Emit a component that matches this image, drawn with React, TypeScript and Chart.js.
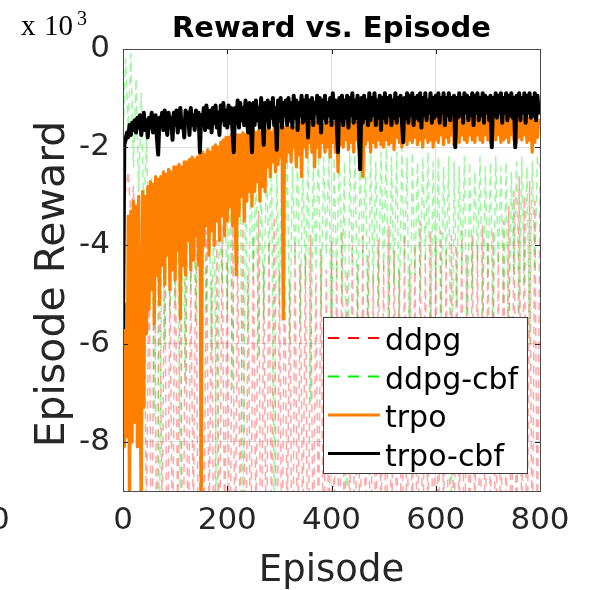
import { useEffect, useRef } from "react";
import { Chart, registerables } from "chart.js";

Chart.register(...registerables);

// ---------------- data (reward in units of 10^3) ----------------
// ddpg / ddpg-cbf: one value every 5 episodes; trpo / trpo-cbf: one value every 2.5 episodes
const DDPG_STEP = 5;
const TRPO_STEP = 2.5;
const xTicks = [0, 200, 400, 600, 800];
const yTicks = [-8, -6, -4, -2, 0];
const seriesNames = ["ddpg", "ddpg-cbf", "trpo", "trpo-cbf"];
const titleText = "Reward vs. Episode";
const xTitle = "Episode";
const yTitle = "Episode Reward";

const ddpg = [
  -2.3, -2.9, -2.5, -3.4, -2.8, -4.0, -3.0, -11, -3.5, -10,
  -3.8, -12, -3.3, -11, -4.1, -9.6, -3.7, -12, -4.4, -11,
  -3.5, -10, -4.0, -12, -3.8, -11, -4.5, -9.8, -3.4, -12,
  -4.2, -11, -3.7, -10, -4.7, -12, -3.9, -11, -3.6, -10,
  -4.3, -12, -3.2, -11, -4.0, -10, -3.5, -12, -4.6, -11,
  -3.8, -10, -3.3, -12, -4.4, -11, -3.9, -10, -3.4, -12,
  -4.5, -11, -4.1, -10, -4.7, -12, -3.9, -11, -4.4, -10,
  -4.2, -12, -3.8, -11, -4.6, -10, -4.1, -12, -4.5, -11,
  -3.9, -10, -4.3, -12, -3.7, -11, -4.5, -10, -4.0, -12,
  -4.4, -11, -3.8, -10, -4.2, -12, -4.6, -11, -3.9, -10,
  -4.3, -12, -3.6, -11, -4.1, -10, -4.5, -12, -3.8, -11,
  -4.4, -10, -4.0, -12, -3.5, -11, -4.2, -10, -3.7, -12,
  -3.9, -11, -3.7, -10, -4.1, -12, -3.8, -11, -4.0, -10,
  -3.7, -12, -4.2, -11, -3.8, -10, -4.0, -12, -3.6, -11,
  -3.9, -10, -3.7, -12, -4.1, -11, -3.5, -10, -3.2, -12,
  -2.9, -11, -2.6, -10, -3.0, -12, -2.7, -11, -3.1, -10,
  -2.8,
];

const ddpgCbf = [
  -1.9, -0.2, -1.6, -0.1, -2.4, -0.6, -2.9, -0.9, -3.4, -1.8,
  -4.2, -2.6, -7.5, -2.9, -10, -2.7, -6.0, -3.1, -5.4, -2.8,
  -5.2, -3.0, -9.5, -2.7, -6.8, -3.2, -4.9, -2.9, -5.6, -2.6,
  -8.4, -3.0, -5.3, -2.8, -6.2, -2.5, -11, -3.1, -4.8, -2.7,
  -5.4, -2.4, -6.9, -2.6, -4.6, -2.3, -10, -2.8, -5.8, -2.5,
  -4.7, -2.4, -6.3, -2.6, -5.5, -2.3, -4.4, -2.2, -9.5, -2.5,
  -5.2, -2.3, -4.6, -2.1, -6.0, -2.4, -4.3, -2.2, -5.6, -2.3,
  -4.8, -2.1, -7.2, -2.3, -4.5, -2.0, -5.4, -2.2, -4.2, -2.1,
  -6.4, -2.2, -4.7, -2.0, -5.1, -2.3, -10, -2.1, -4.4, -2.0,
  -5.6, -2.2, -4.3, -2.1, -6.2, -2.0, -4.8, -2.3, -5.2, -2.1,
  -4.5, -2.0, -6.0, -2.2, -4.8, -2.1, -5.5, -2.0, -4.4, -2.2,
  -7.2, -2.1, -4.6, -2.3, -5.0, -2.2, -4.3, -2.1, -6.1, -2.3,
  -4.8, -2.2, -5.6, -2.4, -4.4, -2.2, -9.8, -2.3, -5.2, -2.4,
  -4.6, -2.2, -6.4, -2.3, -4.9, -2.5, -4.3, -2.2, -5.7, -2.4,
  -4.7, -2.3, -5.9, -2.2, -4.4, -2.4, -5.2, -2.3, -6.6, -2.5,
  -4.6, -2.3, -5.4, -2.2, -4.8, -2.4, -6.0, -2.3, -4.5, -2.2,
  -2.4,
];

const trpo = [
  -6.0, -8.1, -5.2, -7.9, -3.4, -9.5, -3.3, -8.0, -3.1, -7.6,
  -3.2, -8.1, -3.0, -6.5, -9.5, -2.9, -7.3, -3.0, -5.8, -2.8,
  -5.3, -2.7, -4.9, -2.75, -5.6, -2.6, -4.6, -2.65, -5.2, -2.6,
  -4.4, -2.5, -4.8, -2.55, -4.2, -2.45, -4.9, -2.5, -4.5, -2.4,
  -4.7, -2.4, -4.1, -2.35, -5.5, -2.4, -4.4, -2.3, -4.6, -2.3,
  -3.9, -2.25, -4.5, -2.2, -4.3, -2.25, -3.8, -2.2, -4.4, -2.15,
  -9.5, -2.1, -4.0, -2.15, -3.6, -2.05, -4.2, -2.1, -3.7, -2.0,
  -4.0, -1.95, -3.5, -2.0, -3.9, -1.9, -3.4, -1.85, -3.8, -1.8,
  -3.5, -1.8, -3.2, -1.75, -3.6, -1.8, -3.3, -4.6, -1.75, -3.4,
  -1.75, -3.0, -1.7, -3.5, -1.75, -3.1, -1.7, -2.9, -1.7, -3.2,
  -1.65, -2.9, -1.7, -2.7, -1.65, -3.1, -1.7, -2.8, -1.6, -2.9,
  -1.65, -2.4, -1.6, -2.6, -1.7, -2.3, -1.6, -2.5, -1.65, -2.35,
  -1.6, -2.2, -1.65, -5.5, -1.6, -2.3, -1.55, -2.1, -1.6, -2.3,
  -1.55, -2.0, -1.6, -2.4, -1.55, -2.15, -1.5, -2.6, -1.55, -2.0,
  -1.5, -2.2, -1.6, -1.9, -1.5, -2.1, -1.55, -2.4, -1.5, -2.0,
  -1.55, -2.2, -1.5, -1.9, -1.55, -2.1, -1.45, -2.0, -1.5, -2.2,
  -1.45, -1.9, -1.5, -2.1, -1.45, -2.5, -1.4, -1.95, -1.45, -2.0,
  -1.4, -1.85, -1.45, -2.05, -1.4, -1.9, -1.45, -2.1, -1.4, -1.85,
  -1.45, -2.0, -1.4, -1.9, -2.6, -1.45, -1.95, -1.4, -1.85, -1.45,
  -2.1, -1.4, -1.9, -1.45, -2.0, -1.4, -1.85, -1.35, -1.95, -1.4,
  -2.0, -1.45, -1.85, -1.4, -1.95, -1.35, -1.9, -1.4, -2.05, -1.45,
  -1.8, -1.4, -1.9, -1.35, -2.0, -1.4, -1.85, -1.35, -1.95, -1.4,
  -1.85, -1.35, -1.9, -1.4, -1.8, -1.35, -1.95, -1.4, -1.85, -1.35,
  -2.0, -1.4, -1.8, -1.35, -1.9, -1.4, -1.85, -1.35, -2.0, -1.4,
  -1.85, -1.35, -1.9, -1.4, -1.75, -1.35, -1.95, -1.4, -1.8, -1.35,
  -1.9, -1.4, -1.75, -1.35, -1.95, -1.4, -1.8, -1.35, -1.9, -1.4,
  -1.75, -1.35, -1.85, -1.4, -1.9, -1.35, -1.75, -1.4, -1.85, -1.35,
  -1.9, -1.4, -1.75, -1.35, -1.85, -1.4, -1.9, -1.35, -1.75, -1.4,
  -1.85, -1.35, -1.9, -1.4, -1.8, -1.35, -1.85, -1.4, -1.75, -1.35,
  -1.9, -1.4, -1.85, -1.35, -1.8, -1.4, -1.9, -1.35, -1.75, -1.4,
  -1.85, -1.35, -1.9, -1.4, -1.8, -1.35, -1.85, -1.4, -1.75, -1.35,
  -1.9, -1.4, -1.85, -1.35, -2.1, -1.4, -1.9, -1.35, -1.8, -1.45,
  -1.55,
];

const trpoCbf = [
  -5.7, -1.95, -1.85, -1.7, -1.8, -1.55, -1.75, -1.5, -1.65, -1.45,
  -1.7, -1.4, -1.6, -1.35, -1.75, -1.5, -1.3, -1.65, -1.45, -1.8,
  -1.4, -1.6, -1.3, -1.7, -1.45, -1.35, -1.8, -2.15, -1.4, -1.55,
  -1.3, -1.65, -1.25, -1.5, -1.75, -1.3, -1.6, -1.4, -1.85, -1.3,
  -1.55, -1.25, -1.7, -1.35, -1.2, -1.6, -1.45, -1.8, -1.25, -1.5,
  -1.3, -1.75, -1.2, -1.55, -1.35, -1.65, -1.25, -1.5, -1.3, -2.1,
  -1.35, -1.55, -1.2, -1.65, -1.15, -1.45, -1.6, -1.25, -1.7, -1.2,
  -1.5, -1.15, -1.6, -1.3, -1.75, -1.15, -1.45, -1.1, -1.55, -1.25,
  -1.6, -1.15, -1.5, -1.2, -1.65, -2.1, -1.2, -1.5, -1.05, -1.6,
  -1.1, -1.45, -1.2, -1.55, -1.05, -1.4, -1.7, -1.1, -1.5, -2.1,
  -1.1, -1.55, -1.05, -1.45, -1.2, -1.6, -1.0, -1.5, -1.95, -1.1,
  -1.45, -1.05, -1.6, -1.1, -1.4, -1.0, -1.55, -1.2, -2.05, -1.05,
  -1.45, -1.0, -1.6, -1.1, -1.35, -1.05, -1.55, -1.0, -1.45, -1.1,
  -1.6, -0.95, -1.4, -1.05, -1.65, -1.1, -1.35, -0.95, -1.5, -1.05,
  -1.45, -0.95, -1.8, -1.05, -1.4, -1.0, -1.55, -1.1, -1.3, -0.95,
  -1.5, -1.0, -1.7, -1.05, -1.4, -0.95, -1.5, -1.1, -1.35, -1.0,
  -1.55, -0.9, -1.4, -1.05, -1.5, -2.1, -1.0, -1.45, -0.95, -1.55,
  -1.05, -1.4, -0.95, -1.6, -1.0, -1.35, -0.9, -1.5, -1.05, -1.4,
  -0.95, -1.6, -2.45, -1.0, -1.5, -0.95, -1.4, -1.05, -1.55, -0.9,
  -1.45, -1.0, -1.35, -0.9, -1.55, -1.05, -1.4, -0.95, -1.65, -1.0,
  -1.4, -0.9, -1.5, -1.0, -1.35, -0.95, -1.55, -1.05, -1.4, -0.9,
  -1.5, -1.0, -1.35, -0.95, -1.45, -1.9, -1.0, -1.4, -0.9, -1.5,
  -0.95, -1.35, -0.9, -1.55, -1.0, -1.4, -0.95, -1.45, -0.9, -1.6,
  -1.0, -1.35, -0.9, -1.45, -1.05, -1.3, -0.9, -1.5, -1.0, -1.4,
  -0.95, -1.35, -0.9, -1.5, -1.0, -1.3, -0.9, -1.55, -1.0, -1.35,
  -0.9, -1.45, -1.0, -1.3, -0.95, -2.0, -1.0, -1.4, -0.9, -1.35,
  -1.0, -1.5, -0.9, -1.3, -0.95, -1.45, -1.0, -1.35, -0.9, -1.55,
  -0.95, -1.3, -0.9, -1.45, -1.0, -1.35, -0.9, -1.5, -0.95, -1.3,
  -1.0, -1.45, -0.95, -2.0, -1.0, -1.35, -0.9, -1.4, -0.95, -1.3,
  -0.9, -1.5, -1.0, -1.3, -0.9, -1.45, -0.95, -1.35, -0.9, -1.4,
  -1.0, -2.0, -0.95, -1.35, -0.9, -1.45, -1.0, -1.3, -0.9, -1.5,
  -0.95, -1.3, -0.9, -1.4, -1.0, -1.35, -0.9, -1.45, -0.95, -1.3,
  -1.15,
];

// ---------------- styling ----------------
const FONT = "'DejaVu Sans', sans-serif";
const AXIS_COLOR = "#262626";

const toPoints = (vals: number[], step: number) => vals.map((y, i) => ({ x: i * step, y }));

const decorPlugin = {
  id: "decor",
  afterDatasetsDraw(chart: any) {
    const { ctx, chartArea: a, scales } = chart;
    ctx.save();
    ctx.strokeStyle = AXIS_COLOR;
    ctx.lineWidth = 1;
    const tl = 5;
    for (const v of xTicks) {
      const px = Math.round(scales.x.getPixelForValue(v)) + 0.5;
      ctx.beginPath();
      ctx.moveTo(px, a.bottom);
      ctx.lineTo(px, a.bottom - tl);
      ctx.moveTo(px, a.top);
      ctx.lineTo(px, a.top + tl);
      ctx.stroke();
    }
    for (const v of yTicks) {
      const py = Math.round(scales.y.getPixelForValue(v)) + 0.5;
      ctx.beginPath();
      ctx.moveTo(a.left, py);
      ctx.lineTo(a.left + tl, py);
      ctx.moveTo(a.right, py);
      ctx.lineTo(a.right - tl, py);
      ctx.stroke();
    }
    ctx.strokeStyle = "#4a4a4a";
    ctx.strokeRect(Math.round(a.left) + 0.5, Math.round(a.top) + 0.5, Math.round(a.right - a.left), Math.round(a.bottom - a.top));
    ctx.restore();
  },
  afterDraw(chart: any) {
    const { ctx, chartArea: a } = chart;
    ctx.save();
    // legend
    const lx = 323, ly = 317, lw = 204, lh = 156;
    ctx.fillStyle = "#ffffff";
    ctx.fillRect(lx, ly, lw, lh);
    ctx.strokeStyle = "#3a3a3a";
    ctx.lineWidth = 1;
    ctx.strokeRect(lx + 0.5, ly + 0.5, lw, lh);
    const ds = chart.data.datasets;
    ctx.font = `30px ${FONT}`;
    ctx.textBaseline = "alphabetic";
    ctx.textAlign = "left";
    seriesNames.forEach((name, k) => {
      const d = ds.find((q: any) => q.label === name);
      const yy = 338 + k * 38.5;
      ctx.beginPath();
      ctx.strokeStyle = d.legendColor;
      ctx.lineWidth = d.legendWidth;
      ctx.setLineDash(d.borderDash ? [11, 9] : []);
      ctx.moveTo(328, yy);
      ctx.lineTo(380, yy);
      ctx.stroke();
      ctx.setLineDash([]);
      ctx.fillStyle = "#000";
      ctx.fillText(name, 385, yy + 12);
    });
    // title
    ctx.fillStyle = "#000";
    ctx.textAlign = "center";
    ctx.font = `bold 29px ${FONT}`;
    ctx.fillText(titleText, (a.left + a.right) / 2, 37);
    // y axis title
    ctx.save();
    ctx.translate(53, 284);
    ctx.rotate(-Math.PI / 2);
    ctx.textBaseline = "middle";
    ctx.fillStyle = AXIS_COLOR;
    ctx.font = `41px ${FONT}`;
    ctx.fillText(yTitle, 0, 0);
    ctx.restore();
    // exponent label
    ctx.textAlign = "left";
    ctx.textBaseline = "alphabetic";
    ctx.fillStyle = "#000";
    ctx.font = `29px 'Liberation Serif', serif`;
    ctx.fillText("x", 21, 35);
    ctx.fillText("10", 44, 35);
    ctx.font = `20px 'Liberation Serif', serif`;
    ctx.fillText("3", 77, 25);
    // clipped tick label of a neighbouring panel at far left
    ctx.font = `31px ${FONT}`;
    ctx.fillStyle = AXIS_COLOR;
    ctx.textBaseline = "middle";
    ctx.fillText("0", -10, a.bottom + 14 + 15.5);
    ctx.restore();
  },
};

export default function App() {
  const ref = useRef<HTMLCanvasElement | null>(null);
  useEffect(() => {
    if (!ref.current) return;
    const chart = new Chart(ref.current, {
      type: "line",
      data: {
        datasets: [
          {
            label: "ddpg",
            data: toPoints(ddpg, DDPG_STEP),
            borderColor: "rgba(255,0,0,0.35)",
            borderWidth: 1.5,
            borderDash: [8, 5],
            legendColor: "#ff0000",
            legendWidth: 2,
            order: 4,
          } as any,
          {
            label: "ddpg-cbf",
            data: toPoints(ddpgCbf, DDPG_STEP),
            borderColor: "rgba(0,235,0,0.38)",
            borderWidth: 1.5,
            borderDash: [8, 5],
            legendColor: "#00ee00",
            legendWidth: 2,
            order: 3,
          } as any,
          {
            label: "trpo",
            data: toPoints(trpo, TRPO_STEP),
            borderColor: "#ff8000",
            borderWidth: 3.2,
            legendColor: "#ff8000",
            legendWidth: 3,
            order: 2,
          } as any,
          {
            label: "trpo-cbf",
            data: toPoints(trpoCbf, TRPO_STEP),
            borderColor: "#000000",
            borderWidth: 4,
            legendColor: "#000000",
            legendWidth: 3,
            order: 1,
          } as any,
        ],
      },
      options: {
        responsive: false,
        animation: false,
        clip: 0 as any,
        elements: {
          point: { radius: 0 },
          line: { tension: 0, borderJoinStyle: "round", borderCapStyle: "butt" },
        },
        layout: { padding: { left: 0, right: 49, top: 49, bottom: 0 } },
        plugins: {
          legend: { display: false },
          tooltip: { enabled: false },
          title: { display: false },
        },
        scales: {
          x: {
            type: "linear",
            min: 0,
            max: 800,
            afterBuildTicks: (s: any) => {
              s.ticks = xTicks.map((v) => ({ value: v }));
            },
            afterFit: (s: any) => {
              s.height = 99;
            },
            grid: { color: "rgba(0,0,0,0.13)", drawTicks: false },
            border: { display: false },
            ticks: {
              color: AXIS_COLOR,
              font: { family: FONT, size: 31, lineHeight: 1 },
              padding: 14,
              maxRotation: 0,
              autoSkip: false,
            },
            title: {
              display: true,
              text: xTitle,
              color: AXIS_COLOR,
              font: { family: FONT, size: 37, lineHeight: 1 },
              padding: { top: 0, bottom: 0 },
            },
          },
          y: {
            type: "linear",
            min: -9,
            max: 0,
            afterBuildTicks: (s: any) => {
              s.ticks = yTicks.map((v) => ({ value: v }));
            },
            afterFit: (s: any) => {
              s.width = 123;
            },
            grid: { color: "rgba(0,0,0,0.13)", drawTicks: false },
            border: { display: false },
            ticks: {
              color: AXIS_COLOR,
              font: { family: FONT, size: 31, lineHeight: 1 },
              padding: 13,
            },
            title: { display: false },
          },
        },
      },
      plugins: [decorPlugin],
    } as any);
    return () => chart.destroy();
  }, []);
  return (
    <div style={{ position: "absolute", left: 0, top: 0, width: 589, height: 590 }}>
      <canvas ref={ref} width={589} height={590} />
    </div>
  );
}
